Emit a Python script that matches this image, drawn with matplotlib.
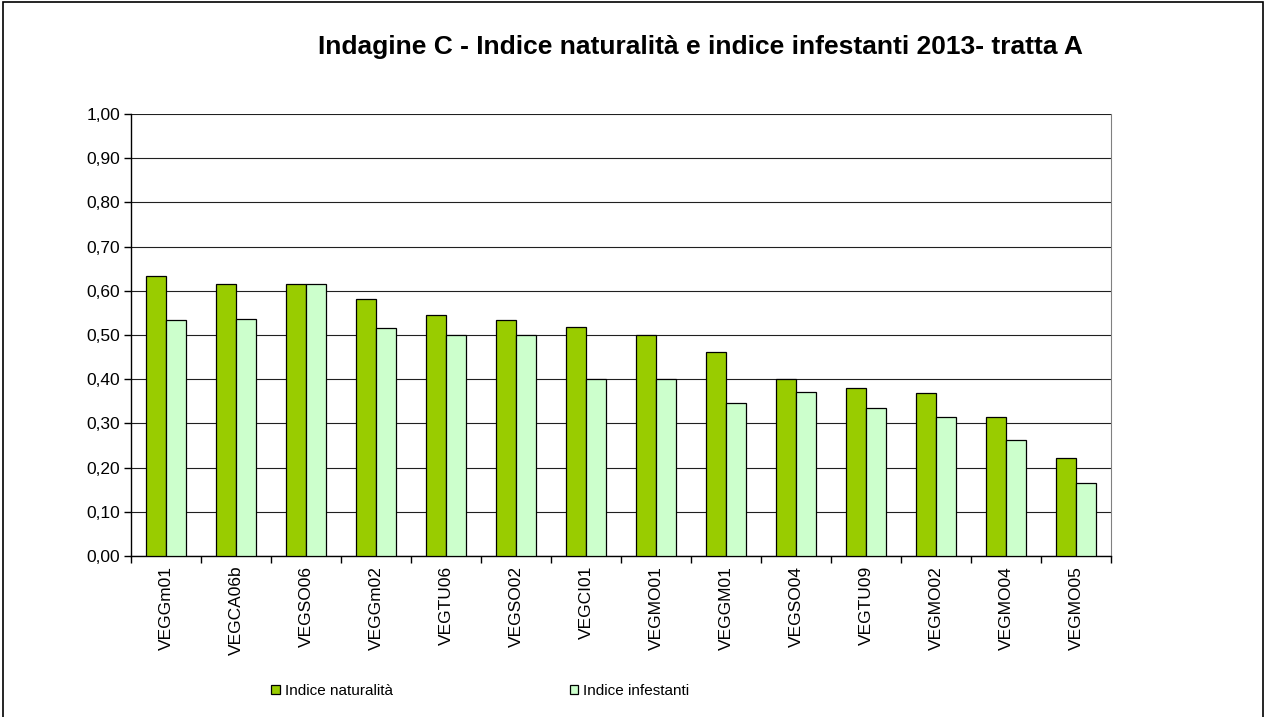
import matplotlib.pyplot as plt
import numpy as np
from matplotlib.patches import Rectangle
from matplotlib.ticker import FuncFormatter, MultipleLocator

plt.rcParams['font.family'] = ['Liberation Sans', 'DejaVu Sans']

# data
stations = ['VEGGm01', 'VEGCA06b', 'VEGSO06', 'VEGGm02', 'VEGTU06', 'VEGSO02', 'VEGCI01',
            'VEGMO01', 'VEGGM01', 'VEGSO04', 'VEGTU09', 'VEGMO02', 'VEGMO04', 'VEGMO05']
naturalita = [0.634, 0.616, 0.616, 0.581, 0.546, 0.534, 0.519,
              0.500, 0.462, 0.400, 0.381, 0.368, 0.315, 0.221]
infestanti = [0.534, 0.537, 0.616, 0.515, 0.500, 0.500, 0.400,
              0.400, 0.346, 0.372, 0.334, 0.315, 0.262, 0.165]

fig = plt.figure(figsize=(12.66, 7.17), dpi=100)
ax = fig.add_axes([0.1035, 0.2245, 0.7741, 0.6165])

# outer chart border
fig.patches.append(Rectangle((0.002, -0.01), 0.996, 1.007, transform=fig.transFigure,
                             fill=False, edgecolor='black', linewidth=1.2))

x = np.arange(len(stations))
w = 0.285
ax.bar(x - w / 2, naturalita, w, color='#99CC00', edgecolor='black', linewidth=0.9,
       label='Indice naturalità', zorder=3)
ax.bar(x + w / 2, infestanti, w, color='#CCFFCC', edgecolor='black', linewidth=0.9,
       label='Indice infestanti', zorder=3)

ax.set_xlim(-0.5, len(stations) - 0.5)
ax.set_ylim(0, 1.0)
ax.yaxis.set_major_locator(MultipleLocator(0.1))
ax.yaxis.set_major_formatter(FuncFormatter(lambda v, p: ('%.2f' % v).replace('.', ',')))
ax.grid(axis='y', color='#202020', linewidth=0.8, zorder=0)

ax.set_xticks(x)
ax.set_xticklabels(stations, rotation=90, fontsize=12.5)
ax.set_xticks(np.arange(len(stations) + 1) - 0.5, minor=True)
ax.tick_params(axis='x', which='major', length=0, pad=7)
ax.tick_params(axis='x', which='minor', length=5, direction='out', width=1)
ax.tick_params(axis='y', labelsize=12.5, length=5, width=1, pad=3)

ax.spines['top'].set_visible(False)
ax.spines['right'].set_color('#808080')
ax.spines['left'].set_linewidth(1)
ax.spines['bottom'].set_linewidth(1)

fig.text(0.553, 0.935, 'Indagine C - Indice naturalità e indice infestanti 2013- tratta A',
         ha='center', va='center', fontsize=19, fontweight='bold')

fig.legend(loc='center left', bbox_to_anchor=(0.2035, 0.036), ncol=2, frameon=False,
           fontsize=11, handlelength=0.55, handleheight=0.55, handletextpad=0.35,
           columnspacing=11.55)

fig.savefig('out.png', dpi=100)
